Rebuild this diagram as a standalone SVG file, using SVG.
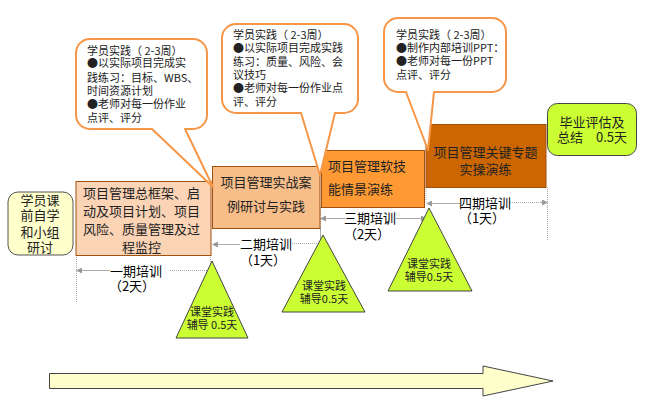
<svg xmlns="http://www.w3.org/2000/svg" width="654" height="406" viewBox="0 0 654 406">
<style>
text{font-family:"Noto Sans CJK SC","Liberation Sans",sans-serif;fill:#222}
.n{font-size:13px;text-anchor:middle}
.s{font-size:13px}
.c{font-size:11px}
.d{font-size:13px;text-anchor:middle;fill:#000}
.t{font-size:11px;text-anchor:middle}
.box{stroke:#A0500F;stroke-width:1}
.call{fill:#fff;stroke:#F79646;stroke-width:2;stroke-linejoin:round}
.tri{fill:#CCFF33;stroke:#444;stroke-width:1}
.dim{stroke:#aaa;stroke-width:1;fill:none}
.guide{stroke:#aaa;stroke-width:1;stroke-dasharray:1 1;fill:none}
</style>
<defs>
<marker id="a" markerWidth="6" markerHeight="6" refX="5" refY="3" orient="auto-start-reverse" markerUnits="userSpaceOnUse"><path d="M0 0L6 3L0 6z" fill="#999"/></marker>
</defs>
<g id="connectors">
<path class="guide" d="M76.500 255V303M210.500 255V270M320.500 228V244M426 187V203M320.500 207V240M547.500 187V241"/>
<path class="dim" d="M110 270.500H77" marker-end="url(#a)"/>
<path class="guide" d="M170 270.500H208"/>
<path class="dim" d="M240 244.500H213" marker-end="url(#a)"/>
<path class="guide" d="M292 243.500H320"/>
<path class="dim" d="M345 218.500H321" marker-end="url(#a)"/>
<path class="guide" d="M396 218.500H418"/>
<path class="dim" d="M396 218.500H426" marker-end="url(#a)"/>
<path class="dim" d="M460 203.500H427" marker-end="url(#a)"/>
<path class="guide" d="M510 202.500H541"/>
<path class="dim" d="M541 202.500H547" marker-end="url(#a)"/>
</g>
<g id="start"><rect x="8" y="192" width="65" height="63" rx="10" fill="#FFFFCC" stroke="#555"/>
<text class="n"><tspan x="40" y="205">学员课</tspan><tspan x="40" y="220">前自学</tspan><tspan x="40" y="237">和小组</tspan><tspan x="40" y="252">研讨</tspan></text></g>
<g id="phase1"><rect class="box" x="76" y="181.500" width="135" height="74" fill="#FBD3B5"/>
<text class="n"><tspan x="141.500" y="198">项目管理总框架、启</tspan><tspan x="141.500" y="216">动及项目计划、项目</tspan><tspan x="141.500" y="234">风险、质量管理及过</tspan><tspan x="141.500" y="252">程监控</tspan></text></g>
<g id="phase2"><rect class="box" x="212.500" y="166.500" width="107.500" height="62" fill="#F8BE8A"/>
<text class="n"><tspan x="266" y="187">项目管理实战案</tspan><tspan x="266" y="211">例研讨与实践</tspan></text></g>
<g id="phase3"><rect class="box" x="321.500" y="150.500" width="103" height="57" fill="#FF9933"/>
<text class="s"><tspan x="328" y="171">项目管理软技</tspan><tspan x="328" y="194">能情景演练</tspan></text></g>
<g id="phase4"><rect class="box" x="426" y="124.500" width="120" height="63" fill="#CC6600"/>
<text class="n"><tspan x="485.500" y="157">项目管理关键专题</tspan><tspan x="485.500" y="174">实操演练</tspan></text></g>
<g id="end"><rect x="547.500" y="103.500" width="89" height="52" rx="10" fill="#CCFF33" stroke="#444"/>
<text class="n"><tspan x="592" y="127">毕业评估及</tspan><tspan x="592" y="142">总结　0.5天</tspan></text></g>
<g id="callout1"><path class="call" d="M90 39H193A14 14 0 0 1 207 53V115A14 14 0 0 1 193 129H185L213 187L152 129H90A14 14 0 0 1 76 115V53A14 14 0 0 1 90 39Z"/>
<text class="c"><tspan x="87" y="55">学员实践（ 2-3周）</tspan><tspan x="87" y="67">●以实际项目完成实</tspan><tspan x="87" y="82">践练习：目标、WBS、</tspan><tspan x="87" y="95">时间资源计划</tspan><tspan x="87" y="108">●老师对每一份作业</tspan><tspan x="87" y="122">点评、评分</tspan></text></g>
<g id="callout2"><path class="call" d="M236 24H344A14 14 0 0 1 358 38V99A14 14 0 0 1 344 113H335L320 175L301 113H236A14 14 0 0 1 222 99V38A14 14 0 0 1 236 24Z"/>
<text class="c"><tspan x="233" y="39">学员实践（ 2-3周）</tspan><tspan x="233" y="52">●以实际项目完成实践</tspan><tspan x="233" y="66">练习：质量、风险、会</tspan><tspan x="233" y="79">议技巧</tspan><tspan x="233" y="92">●老师对每一份作业点</tspan><tspan x="233" y="106">评、评分</tspan></text></g>
<g id="callout3"><path class="call" d="M398 18H492A14 14 0 0 1 506 32V78A14 14 0 0 1 492 92H434L428 150L406 92H398A14 14 0 0 1 384 78V32A14 14 0 0 1 398 18Z"/>
<text class="c"><tspan x="396" y="39">学员实践（ 2-3周）</tspan><tspan x="396" y="52">●制作内部培训PPT：</tspan><tspan x="396" y="65">●老师对每一份PPT</tspan><tspan x="396" y="79">点评、评分</tspan></text></g>
<g id="tri1"><polygon class="tri" points="212,261 248,338 176,338"/>
<text class="t"><tspan x="212" y="316">课堂实践</tspan><tspan x="212" y="329">辅导 0.5天</tspan></text></g>
<g id="tri2"><polygon class="tri" points="323,235 365,312 282,312"/>
<text class="t"><tspan x="324" y="290">课堂实践</tspan><tspan x="324" y="303">辅导0.5天</tspan></text></g>
<g id="tri3"><polygon class="tri" points="429,208 472,291 388,291"/>
<text class="t"><tspan x="429" y="268">课堂实践</tspan><tspan x="429" y="281">辅导0.5天</tspan></text></g>
<text class="d"><tspan x="136" y="276">一期培训</tspan><tspan x="132" y="291">（2天）</tspan></text>
<text class="d"><tspan x="266" y="249">二期培训</tspan><tspan x="263" y="265">（1天）</tspan></text>
<text class="d"><tspan x="370" y="223">三期培训</tspan><tspan x="367" y="239">（2天）</tspan></text>
<text class="d"><tspan x="485" y="208">四期培训</tspan><tspan x="482" y="223">（1天）</tspan></text>
<polygon id="timeline" points="49.500,373.500 483,373.500 483,366 553,381 483,396 483,388.500 49.500,388.500" fill="#FFFFCC" stroke="#444"/>
</svg>
